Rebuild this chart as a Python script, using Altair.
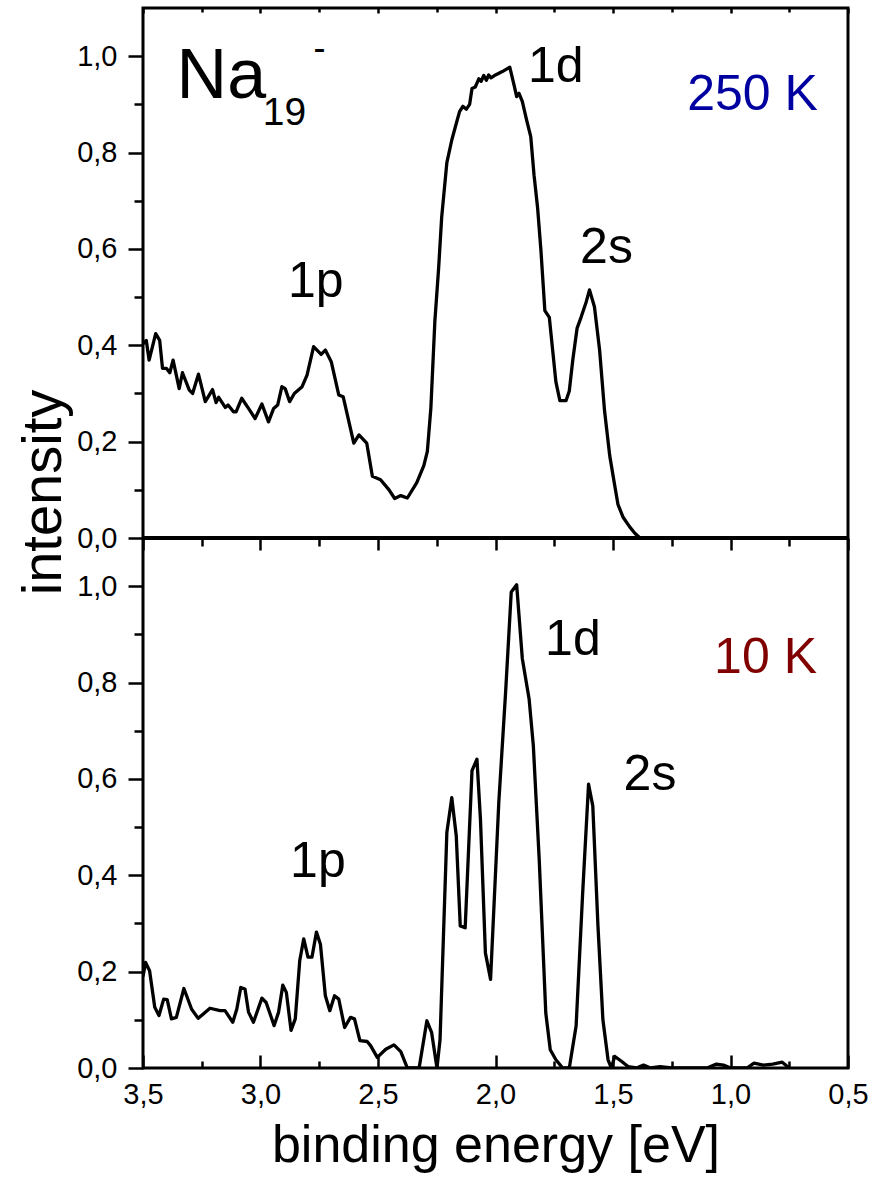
import altair as alt
import pandas as pd

# ---------------- data ----------------
# 250 K spectrum (upper panel)
E_250 = [3.5, 3.486, 3.474, 3.446, 3.429, 3.417, 3.40, 3.386, 3.372, 3.346, 3.332, 3.303, 3.289,
         3.264, 3.235, 3.204, 3.189, 3.178, 3.15, 3.138, 3.115, 3.104, 3.08, 3.051, 3.023, 2.994,
         2.966, 2.944, 2.927, 2.909, 2.895, 2.876, 2.856, 2.823, 2.802, 2.774, 2.742, 2.724, 2.699,
         2.667, 2.648, 2.603, 2.581, 2.548, 2.524, 2.489, 2.453, 2.429, 2.403, 2.375, 2.335, 2.305,
         2.29, 2.275, 2.258, 2.242, 2.229, 2.207, 2.186, 2.171, 2.153, 2.139, 2.124, 2.11, 2.10,
         2.086, 2.071, 2.061, 2.05, 2.039, 2.029, 2.019, 2.0, 1.971, 1.939, 1.921, 1.91, 1.9, 1.886,
         1.867, 1.85, 1.836, 1.821, 1.807, 1.79, 1.771, 1.757, 1.743, 1.726, 1.70, 1.686, 1.671,
         1.653, 1.636, 1.614, 1.6, 1.579, 1.557, 1.536, 1.514, 1.493, 1.479, 1.457, 1.429, 1.407,
         1.385]
I_250 = [0.403, 0.41, 0.369, 0.424, 0.41, 0.352, 0.352, 0.343, 0.369, 0.31, 0.343, 0.307, 0.30,
         0.34, 0.283, 0.308, 0.281, 0.292, 0.271, 0.276, 0.262, 0.262, 0.29, 0.269, 0.248, 0.278,
         0.241, 0.269, 0.276, 0.314, 0.31, 0.283, 0.30, 0.314, 0.338, 0.397, 0.381, 0.39, 0.366,
         0.297, 0.293, 0.197, 0.214, 0.197, 0.128, 0.121, 0.10, 0.082, 0.088, 0.083, 0.115, 0.15,
         0.18, 0.27, 0.45, 0.56, 0.666, 0.779, 0.826, 0.853, 0.885, 0.896, 0.89, 0.90, 0.933,
         0.936, 0.953, 0.948, 0.96, 0.95, 0.961, 0.955, 0.961, 0.968, 0.977, 0.94, 0.916, 0.923, 0.906,
         0.866, 0.833, 0.753, 0.686, 0.599, 0.472, 0.458, 0.391, 0.324, 0.285, 0.285, 0.305, 0.37,
         0.435, 0.458, 0.49, 0.515, 0.48, 0.39, 0.264, 0.171, 0.11, 0.07, 0.043, 0.023, 0.01,
         0.0]

# 10 K spectrum (lower panel)
E_10 = [3.5, 3.489, 3.472, 3.45, 3.432, 3.412, 3.397, 3.379, 3.358, 3.326, 3.293, 3.265, 3.215,
        3.172, 3.151, 3.118, 3.101, 3.084, 3.066, 3.051, 3.03, 2.994, 2.976, 2.942, 2.923, 2.905,
        2.89, 2.87, 2.852, 2.833, 2.816, 2.798, 2.781, 2.762, 2.745, 2.724, 2.705, 2.685, 2.667,
        2.642, 2.617, 2.6, 2.577, 2.546, 2.531, 2.503, 2.467, 2.432, 2.403, 2.375, 2.325, 2.292,
        2.272, 2.249, 2.236, 2.207, 2.186, 2.167, 2.15, 2.129, 2.10, 2.079, 2.064, 2.043, 2.021,
        1.986, 1.957, 1.933, 1.91, 1.886, 1.857, 1.839, 1.814, 1.786, 1.767, 1.743, 1.714, 1.686,
        1.657, 1.629, 1.604, 1.586, 1.564, 1.543, 1.521, 1.507, 1.493, 1.464, 1.436, 1.40, 1.37,
        1.34, 1.30, 1.25, 1.10, 1.06, 1.03, 1.0, 0.93, 0.90, 0.86, 0.82, 0.78, 0.75]
I_10 = [0.19, 0.219, 0.202, 0.126, 0.109, 0.143, 0.142, 0.102, 0.105, 0.165, 0.122, 0.103, 0.124,
        0.119, 0.119, 0.095, 0.122, 0.167, 0.164, 0.116, 0.095, 0.145, 0.136, 0.088, 0.116, 0.172,
        0.157, 0.078, 0.102, 0.223, 0.268, 0.23, 0.23, 0.282, 0.257, 0.15, 0.119, 0.15, 0.143,
        0.084, 0.105, 0.102, 0.057, 0.055, 0.046, 0.022, 0.039, 0.048, 0.034, 0.0, 0.0, 0.098,
        0.074, 0.0, 0.059, 0.489, 0.561, 0.482, 0.295, 0.291, 0.617, 0.641, 0.516, 0.239, 0.184,
        0.551, 0.78, 0.988, 1.003, 0.85, 0.766, 0.669, 0.433, 0.114, 0.038, 0.017, 0.0, 0.0,
        0.087, 0.364, 0.589, 0.544, 0.295, 0.10, 0.017, 0.0, 0.024, 0.014, 0.003, 0.0, 0.006,
        0.0, 0.003, 0.0, 0.0, 0.008, 0.006, 0.0, 0.0, 0.01, 0.006, 0.008, 0.012, 0.0]

# annotations (black, left-aligned)
ANN_TEXT = ["Na", "19", "-", "1p", "1d", "2s", "1p", "1d", "2s"]
ANN_E = [3.357, 2.990, 2.775, 2.883, 1.862, 1.640, 2.874, 1.789, 1.455]
ANN_I = [0.913, 0.857, 0.993, 0.50, 0.947, 0.571, 0.396, 0.857, 0.576]
ANN_PANEL = ["250 K"] * 6 + ["10 K"] * 3
ANN_SIZE = [70, 39, 36, 50, 50, 50, 50, 50, 50]

# temperature labels (coloured, right-aligned)
TEMP_TEXT = ["250 K", "10 K"]
TEMP_E = [0.628, 0.632]
TEMP_I = [0.888, 0.820]
TEMP_PANEL = ["250 K", "10 K"]
TEMP_COLOR = ["#0000A0", "#800000"]

# axes
X_MAJOR = [3.5, 3.0, 2.5, 2.0, 1.5, 1.0, 0.5]
X_MINOR = [3.25, 2.75, 2.25, 1.75, 1.25, 0.75]
Y_MAJOR = [0.0, 0.2, 0.4, 0.6, 0.8, 1.0]
Y_MINOR = [0.1, 0.3, 0.5, 0.7, 0.9]
Y_TOP = 1.1          # top of each panel's intensity range
OFFSET = {"10 K": 0.0, "250 K": Y_TOP}

FONT = "Liberation Sans"
W, H = 705, 1060
MID = H / 2

# ---------------- tables ----------------
spec = pd.concat([
    pd.DataFrame({"E": E_250, "I": I_250, "panel": "250 K"}),
    pd.DataFrame({"E": E_10, "I": I_10, "panel": "10 K"}),
], ignore_index=True)
spec["Y"] = spec["I"] + spec["panel"].map(OFFSET)

ann = pd.DataFrame({"text": ANN_TEXT, "E": ANN_E, "I": ANN_I, "panel": ANN_PANEL,
                    "size": ANN_SIZE})
ann["Y"] = ann["I"] + ann["panel"].map(OFFSET)

temps = pd.DataFrame({"text": TEMP_TEXT, "E": TEMP_E, "I": TEMP_I, "panel": TEMP_PANEL,
                      "color": TEMP_COLOR})
temps["Y"] = temps["I"] + temps["panel"].map(OFFSET)

y_major_all = Y_MAJOR + [round(v + Y_TOP, 3) for v in Y_MAJOR]
y_minor_all = Y_MINOR + [round(v + Y_TOP, 3) for v in Y_MINOR]

xs = alt.Scale(domain=[0.5, 3.5], reverse=True, nice=False, zero=False)
ys = alt.Scale(domain=[0, 2 * Y_TOP], nice=False, zero=False)

x_fmt = "replace(format(datum.value, '.1f'), '.', ',')"
y_fmt = (f"replace(format(datum.value >= {Y_TOP - 0.05} ? datum.value - {Y_TOP} : datum.value, '.1f'), '.', ',')")

base = alt.Chart(spec)

lines = base.mark_line(color="black", strokeWidth=3.3, strokeJoin="round", clip=True).encode(
    x=alt.X("E:Q", scale=xs, axis=alt.Axis(
        orient="bottom", values=X_MAJOR, ticks=False, tickSize=0, domain=False, grid=False,
        labelExpr=x_fmt, labelFontSize=29, labelFont=FONT, labelPadding=12, labelFlush=False,
        labelOverlap=False, title="binding energy [eV]", titleFont=FONT, titleFontSize=52,
        titleFontWeight="normal", titlePadding=11, titleColor="black", labelColor="black")),
    y=alt.Y("Y:Q", scale=ys, axis=alt.Axis(
        orient="left", values=y_major_all, tickSize=15, tickWidth=2.5, tickColor="black",
        domain=False, grid=False, labelExpr=y_fmt, labelFontSize=29, labelFont=FONT,
        labelPadding=11, labelFlush=False, labelOverlap=False, labelColor="black",
        title="intensity", titleFont=FONT, titleFontSize=56, titleFontWeight="normal",
        titleColor="black", titleAngle=270, titleX=-83, titleY=484,
        titleAlign="center", titleBaseline="alphabetic")),
    detail="panel:N",
)


def tick_axis(channel, orient, values, size, offset):
    ax = alt.Axis(orient=orient, values=values, tickSize=size, tickWidth=2.5, tickColor="black",
                  domain=False, grid=False, labels=False, title=None, offset=offset)
    if channel == "x":
        enc = dict(x=alt.X("E:Q", scale=xs, axis=ax), y=alt.Y("Y:Q", scale=ys, axis=None))
    else:
        enc = dict(x=alt.X("E:Q", scale=xs, axis=None), y=alt.Y("Y:Q", scale=ys, axis=ax))
    return base.mark_point(opacity=0).encode(**enc)


ticks = [
    # bottom frame, inward ticks
    tick_axis("x", "bottom", X_MAJOR, 13, -13),
    tick_axis("x", "bottom", X_MINOR, 7, -7),
    # middle line, ticks pointing down into the lower panel
    tick_axis("x", "top", X_MAJOR, 12, -(MID + 12)),
    tick_axis("x", "top", X_MINOR, 8, -(MID + 8)),
    # top frame, short inward ticks
    tick_axis("x", "top", X_MAJOR, 5, -5),
    tick_axis("x", "top", X_MINOR, 4, -4),
    # left minor ticks (outward)
    tick_axis("y", "left", y_minor_all, 9, 0),
]

mid_rule = alt.Chart(spec).mark_rule(color="black", strokeWidth=3).encode(
    y=alt.Y(datum=Y_TOP, scale=ys, axis=None)
)

labels_black = alt.Chart(ann).mark_text(
    align="left", baseline="alphabetic", font=FONT, color="black"
).encode(
    x=alt.X("E:Q", scale=xs, axis=None),
    y=alt.Y("Y:Q", scale=ys, axis=None),
    text="text:N",
    size=alt.Size("size:Q", scale=None, legend=None),
)

labels_temp = alt.Chart(temps).mark_text(
    align="right", baseline="alphabetic", font=FONT, fontSize=50
).encode(
    x=alt.X("E:Q", scale=xs, axis=None),
    y=alt.Y("Y:Q", scale=ys, axis=None),
    text="text:N",
    color=alt.Color("color:N", scale=None, legend=None),
)

chart = alt.layer(
    lines, *ticks, mid_rule, labels_black, labels_temp
).resolve_axis(
    x="independent", y="independent"
).properties(
    width=W, height=H,
    padding={"left": 143, "top": 8, "right": 28, "bottom": 118},
    autosize=alt.AutoSizeParams(type="none"),
    background="white",
).configure_view(
    stroke="black", strokeWidth=3
)

chart.save("out.html", embed_options={"renderer": "svg", "actions": False})
